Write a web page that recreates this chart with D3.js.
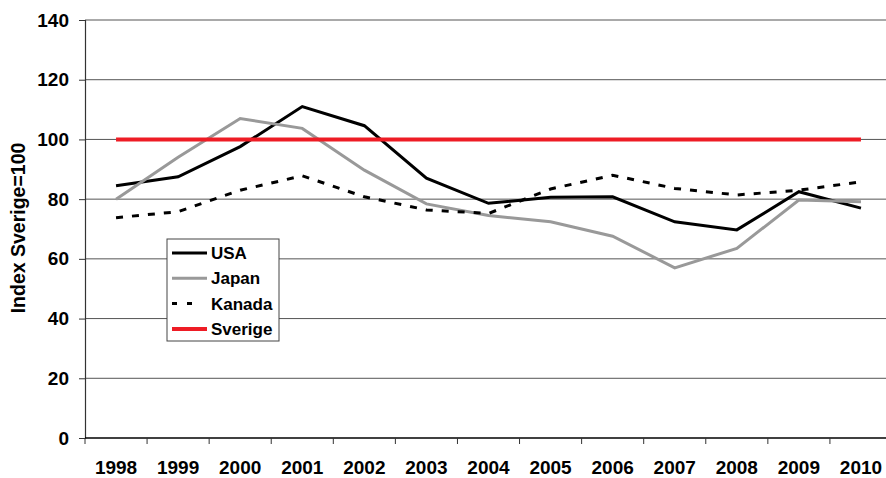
<!DOCTYPE html>
<html>
<head>
<meta charset="utf-8">
<script src="https://cdn.jsdelivr.net/npm/d3@7"></script>
<style>
  html, body { margin: 0; padding: 0; background: #fff; }
  svg { display: block; font-family: Arial, "Liberation Sans", sans-serif; }
</style>
</head>
<body>
<svg id="chart" width="886" height="478"></svg>
<script>
// Years on the x axis
const years = ["1998","1999","2000","2001","2002","2003","2004","2005","2006","2007","2008","2009","2010"];

// Index values (Sverige = 100)
const usa    = [84.5, 87.5, 97.6, 111, 104.6, 87, 78.6, 80.6, 80.8, 72.4, 69.7, 82.5, 77];
const japan  = [80, 94, 107, 103.7, 89.7, 78.4, 74.5, 72.4, 67.6, 57, 63.5, 79.7, 79.1];
const kanada = [73.8, 75.8, 83, 87.8, 80.8, 76.4, 75.2, 83.4, 88, 83.6, 81.4, 83, 85.8];
const sverige = [100, 100, 100, 100, 100, 100, 100, 100, 100, 100, 100, 100, 100];

const yTicks = [0, 20, 40, 60, 80, 100, 120, 140];

const series = [
  { name: "USA",     values: usa,     color: "#000000", width: 3,   dash: null },
  { name: "Japan",   values: japan,   color: "#999999", width: 3,   dash: null },
  { name: "Kanada",  values: kanada,  color: "#000000", width: 3,   dash: "7,9" },
  { name: "Sverige", values: sverige, color: "#ee1c25", width: 4,   dash: null }
];

const svg = d3.select("#chart");
const plot = { left: 85, right: 892, top: 20, bottom: 438 };

const x = d3.scaleBand().domain(years).range([plot.left, plot.right]);
const y = d3.scaleLinear().domain([0, 140]).range([plot.bottom, plot.top]);

// Horizontal gridlines
svg.append("g")
  .selectAll("line")
  .data(yTicks.filter(d => d > 0))
  .join("line")
  .attr("x1", plot.left).attr("x2", plot.right)
  .attr("y1", d => y(d)).attr("y2", d => y(d))
  .attr("stroke", "#555").attr("stroke-width", 1);

// Y axis
const yAxis = svg.append("g")
  .attr("transform", `translate(${plot.left},0)`)
  .call(d3.axisLeft(y).tickValues(yTicks).tickSize(6).tickPadding(10));
yAxis.select(".domain").attr("stroke", "#333").attr("stroke-width", 1.2);
yAxis.selectAll(".tick line").attr("stroke", "#333");
yAxis.selectAll("text")
  .attr("font-size", "19px").attr("font-weight", "bold").attr("fill", "#000")
  .attr("font-family", "Arial, 'Liberation Sans', sans-serif");

// X axis with ticks at band boundaries
const xAxis = svg.append("g")
  .attr("transform", `translate(0,${plot.bottom})`);
xAxis.append("line")
  .attr("x1", plot.left).attr("x2", plot.right)
  .attr("stroke", "#000").attr("stroke-width", 1.5);
xAxis.selectAll("line.tk")
  .data(years)
  .join("line").attr("class", "tk")
  .attr("x1", d => x(d)).attr("x2", d => x(d))
  .attr("y1", 0).attr("y2", 6)
  .attr("stroke", "#333");
xAxis.selectAll("text")
  .data(years)
  .join("text")
  .attr("x", d => x(d) + x.bandwidth() / 2)
  .attr("y", 36)
  .attr("text-anchor", "middle")
  .attr("font-size", "19px").attr("font-weight", "bold")
  .text(d => d);

// Y axis title
svg.append("text")
  .attr("transform", "translate(25,228) rotate(-90)")
  .attr("text-anchor", "middle")
  .attr("font-size", "19.5px").attr("font-weight", "bold")
  .text("Index Sverige=100");

// Lines
const line = d3.line()
  .x((d, i) => x(years[i]) + x.bandwidth() / 2)
  .y(d => y(d));

svg.append("g")
  .selectAll("path")
  .data(series)
  .join("path")
  .attr("d", d => line(d.values))
  .attr("fill", "none")
  .attr("stroke", d => d.color)
  .attr("stroke-width", d => d.width)
  .attr("stroke-dasharray", d => d.dash)
  .attr("stroke-linejoin", "miter");

// Legend
const legend = svg.append("g").attr("transform", "translate(167,239)");
legend.append("rect")
  .attr("width", 112).attr("height", 102)
  .attr("fill", "#fff").attr("stroke", "#444").attr("stroke-width", 1);
const items = legend.selectAll("g.item")
  .data(series)
  .join("g").attr("class", "item")
  .attr("transform", (d, i) => `translate(0,${14 + i * 25.3})`);
items.append("line")
  .attr("x1", 5)
  .attr("x2", d => d.dash ? 26 : 40)
  .attr("stroke", d => d.color)
  .attr("stroke-width", d => d.width)
  .attr("stroke-dasharray", d => d.dash ? "5,10" : null);
items.append("text")
  .attr("x", 44).attr("y", 6)
  .attr("font-size", "17px").attr("font-weight", "bold")
  .text(d => d.name);
</script>
</body>
</html>
